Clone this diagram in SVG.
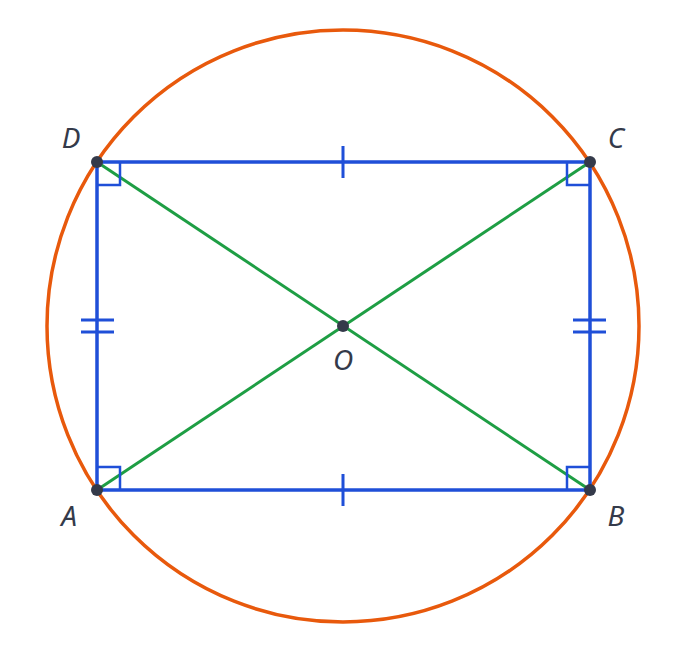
<svg xmlns="http://www.w3.org/2000/svg" width="686" height="653" viewBox="0 0 686 653">
<style>
.lbl{font-family:"Noto Sans","Open Sans",sans-serif;font-style:italic;font-size:28px;fill:#343a4a;text-anchor:middle}
.blue{stroke:#1f4fd8;fill:none;stroke-width:3.5}
.tick{stroke:#1f4fd8;fill:none;stroke-width:3}
.ra{stroke:#1f4fd8;fill:none;stroke-width:2.5}
.green{stroke:#1e9e44;stroke-width:3;fill:none}
.pt{fill:#343a4a}
</style>
<rect width="686" height="653" fill="#ffffff"/>
<g id="circle"><circle cx="343" cy="326" r="296" fill="none" stroke="#e8590c" stroke-width="3.5"/></g>
<g id="connectors">
<line class="green" x1="97" y1="490" x2="590" y2="162"/>
<line class="green" x1="97" y1="162" x2="590" y2="490"/>
</g>
<g id="rectangle">
<rect class="blue" x="97" y="162" width="493" height="328"/>
<path class="ra" d="M97,185 H120 V162 M567,162 V185 H590 M97,467 H120 V490 M567,490 V467 H590"/>
<path class="tick" d="M343,146 V178 M343,474 V506 M81,320 H114 M81,332 H114 M573,320 H606 M573,332 H606"/>
</g>
<g id="A"><circle class="pt" cx="97" cy="490" r="6"/><text class="lbl" x="69" y="526">A</text></g>
<g id="B"><circle class="pt" cx="590" cy="490" r="6"/><text class="lbl" x="616" y="526">B</text></g>
<g id="C"><circle class="pt" cx="590" cy="162" r="6"/><text class="lbl" x="616" y="148">C</text></g>
<g id="D"><circle class="pt" cx="97" cy="162" r="6"/><text class="lbl" x="71" y="148">D</text></g>
<g id="O"><circle class="pt" cx="343" cy="326" r="6"/><text class="lbl" x="343" y="370">O</text></g>
</svg>
